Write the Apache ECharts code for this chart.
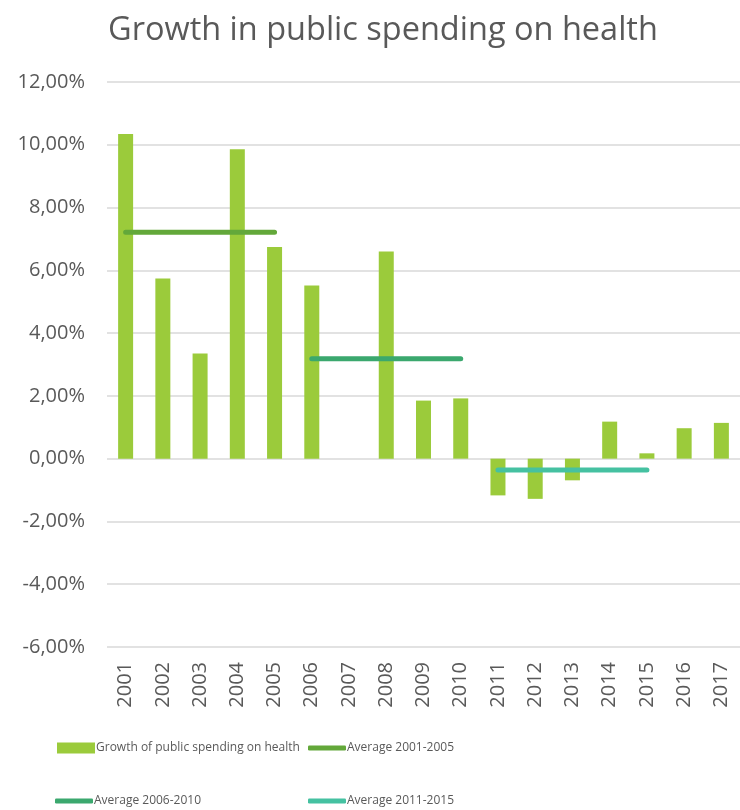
<!DOCTYPE html>
<html>
<head>
<meta charset="utf-8">
<script src="https://cdn.jsdelivr.net/npm/echarts@6/dist/echarts.min.js"></script>
<style>html,body{margin:0;padding:0;background:#fff}#c{width:740px;height:810px}</style>
</head>
<body>
<div id="c"></div>
<script>
var years = ['2001','2002','2003','2004','2005','2006','2007','2008','2009','2010','2011','2012','2013','2014','2015','2016','2017'];
var growth = [10.34, 5.74, 3.35, 9.86, 6.74, 5.52, 0.00, 6.60, 1.85, 1.92, -1.17, -1.28, -0.69, 1.18, 0.17, 0.97, 1.14];
var avg0105 = [7.21, 7.21, 7.21, 7.21, 7.21, null, null, null, null, null, null, null, null, null, null, null, null];
var avg0610 = [null, null, null, null, null, 3.18, 3.18, 3.18, 3.18, 3.18, null, null, null, null, null, null, null];
var avg1115 = [null, null, null, null, null, null, null, null, null, null, -0.36, -0.36, -0.36, -0.36, -0.36, null, null];
var names = ['Growth of public spending on health', 'Average 2001-2005', 'Average 2006-2010', 'Average 2011-2015'];

var font = 'Open Sans';
var txt = '#595959';
function fmt(v){ return v.toFixed(2).replace('.', ',') + '%'; }
function lg(name, left, top, icon, h){
  return {data:[{name:name, icon:icon}], left:left, top:top, itemWidth:38, itemHeight:h, itemGap:0,
    textStyle:{color:txt, fontFamily:font, fontSize:12, padding:[0,0,0,-4]}, selectedMode:false};
}
var chart = echarts.init(document.getElementById('c'));
chart.setOption({
  animation:false,
  title:{text:'Growth in public spending on health', left:103, top:9,
    textStyle:{color:txt, fontFamily:font, fontSize:32.5, fontWeight:'normal'}},
  legend:[lg(names[0],52,737,'rect',11), lg(names[1],303,737,'roundRect',5), lg(names[2],50,790,'roundRect',5), lg(names[3],303,790,'roundRect',5)],
  grid:{left:107, top:82, right:-3, height:565},
  xAxis:{type:'category', data:years, axisTick:{show:false},
    axisLine:{show:false},
    axisLabel:{rotate:90, color:txt, fontFamily:font, fontSize:20, margin:15}},
  yAxis:{type:'value', min:-6, max:12, interval:2,
    axisLabel:{formatter:fmt, color:txt, fontFamily:font, fontSize:20, margin:22},
    splitLine:{lineStyle:{color:'#d9d9d9', width:1.5}}},
  series:[
    {name:names[0], type:'bar', data:growth, barWidth:15, itemStyle:{color:'#9bcb3b'}},
    {name:names[1], type:'line', data:avg0105, showSymbol:false, symbol:'none', lineStyle:{color:'#63a83a', width:5, cap:'round'}, itemStyle:{color:'#63a83a'}},
    {name:names[2], type:'line', data:avg0610, showSymbol:false, symbol:'none', lineStyle:{color:'#3ba86e', width:5, cap:'round'}, itemStyle:{color:'#3ba86e'}},
    {name:names[3], type:'line', data:avg1115, showSymbol:false, symbol:'none', lineStyle:{color:'#45c1a1', width:5, cap:'round'}, itemStyle:{color:'#45c1a1'}}
  ]
});
</script>
</body>
</html>
